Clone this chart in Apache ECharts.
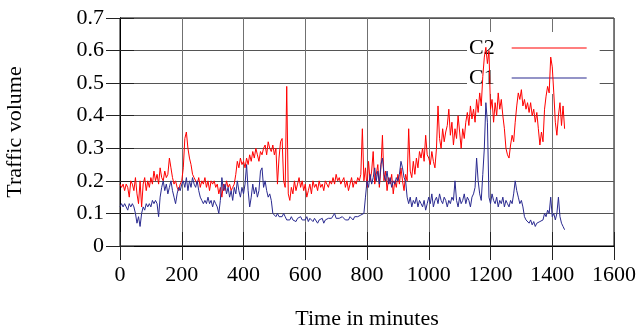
<!DOCTYPE html>
<html>
<head>
<meta charset="utf-8">
<script src="https://cdn.jsdelivr.net/npm/echarts@6/dist/echarts.min.js"></script>
<style>
html,body{margin:0;padding:0;background:#fff;}
#chart{width:642px;height:328px;}
</style>
</head>
<body>
<div id="chart"></div>
<script>
// Sampling step of the series, in minutes (first sample at minute 0)
const sampleStepMinutes = 5;

const seriesNames = ['C2', 'C1'];

// C2 (red) traffic volume, one value every 5 minutes from 0 to 1440
const c2Values = [
  0.19,0.18,0.19,0.17,0.19,0.18,0.15,0.2,0.19,0.17,0.21,0.16,0.13,0.2,0.12,0.19,0.21,0.17,0.2,0.18,
  0.21,0.19,0.23,0.2,0.22,0.19,0.24,0.21,0.2,0.23,0.21,0.22,0.27,0.24,0.21,0.19,0.2,0.18,0.17,0.19,
  0.2,0.24,0.33,0.35,0.3,0.27,0.25,0.22,0.21,0.2,0.19,0.21,0.18,0.2,0.19,0.21,0.18,0.2,0.17,0.2,
  0.19,0.2,0.18,0.19,0.16,0.18,0.15,0.19,0.17,0.2,0.18,0.19,0.17,0.18,0.19,0.22,0.26,0.24,0.27,0.25,
  0.26,0.24,0.27,0.25,0.28,0.26,0.29,0.27,0.3,0.28,0.26,0.29,0.28,0.3,0.31,0.28,0.32,0.3,0.29,0.31,
  0.28,0.3,0.19,0.27,0.32,0.33,0.2,0.18,0.49,0.16,0.14,0.18,0.16,0.2,0.17,0.19,0.21,0.18,0.2,0.17,
  0.19,0.15,0.17,0.19,0.16,0.2,0.18,0.19,0.17,0.2,0.18,0.19,0.17,0.2,0.19,0.18,0.2,0.19,0.21,0.19,
  0.22,0.2,0.21,0.19,0.2,0.21,0.18,0.2,0.17,0.19,0.21,0.18,0.2,0.19,0.21,0.2,0.22,0.36,0.2,0.24,
  0.18,0.26,0.2,0.23,0.29,0.19,0.22,0.25,0.18,0.24,0.34,0.2,0.23,0.17,0.21,0.19,0.22,0.16,0.2,0.18,
  0.22,0.19,0.24,0.2,0.17,0.22,0.2,0.36,0.23,0.21,0.26,0.22,0.27,0.24,0.29,0.27,0.3,0.26,0.34,0.28,
  0.27,0.25,0.29,0.26,0.24,0.3,0.43,0.33,0.3,0.36,0.32,0.35,0.37,0.42,0.34,0.38,0.31,0.36,0.33,0.4,
  0.35,0.3,0.36,0.33,0.38,0.41,0.37,0.43,0.39,0.42,0.38,0.45,0.41,0.47,0.43,0.52,0.58,0.61,0.56,0.6,
  0.42,0.45,0.38,0.44,0.4,0.47,0.42,0.45,0.4,0.36,0.3,0.28,0.27,0.31,0.34,0.32,0.38,0.43,0.47,0.45,
  0.48,0.43,0.45,0.42,0.44,0.41,0.44,0.4,0.42,0.38,0.41,0.36,0.31,0.35,0.32,0.42,0.46,0.49,0.47,0.58,
  0.55,0.47,0.38,0.34,0.4,0.44,0.37,0.43,0.36
];

// C1 (blue) traffic volume, one value every 5 minutes from 0 to 1440
const c1Values = [
  0.12,0.13,0.12,0.13,0.12,0.11,0.13,0.12,0.13,0.12,0.1,0.07,0.09,0.06,0.1,0.12,0.11,0.13,0.12,0.13,
  0.12,0.14,0.13,0.14,0.13,0.09,0.15,0.18,0.2,0.17,0.19,0.16,0.18,0.2,0.17,0.15,0.13,0.16,0.18,0.17,
  0.19,0.2,0.18,0.21,0.17,0.2,0.18,0.21,0.19,0.18,0.2,0.17,0.15,0.14,0.13,0.14,0.13,0.15,0.13,0.14,
  0.12,0.14,0.13,0.12,0.1,0.14,0.21,0.17,0.19,0.16,0.18,0.15,0.17,0.14,0.18,0.16,0.2,0.17,0.15,0.18,
  0.16,0.19,0.25,0.17,0.12,0.15,0.19,0.16,0.18,0.15,0.17,0.23,0.24,0.18,0.2,0.17,0.15,0.16,0.14,0.1,
  0.1,0.09,0.1,0.09,0.095,0.09,0.1,0.09,0.08,0.085,0.08,0.09,0.08,0.085,0.075,0.085,0.08,0.09,0.08,0.085,
  0.08,0.09,0.075,0.085,0.08,0.075,0.085,0.08,0.07,0.08,0.075,0.085,0.07,0.08,0.075,0.085,0.08,0.085,0.09,0.1,
  0.085,0.08,0.085,0.08,0.09,0.085,0.08,0.085,0.08,0.09,0.085,0.08,0.09,0.085,0.09,0.09,0.095,0.09,0.1,0.15,
  0.2,0.18,0.22,0.19,0.21,0.24,0.2,0.23,0.19,0.25,0.27,0.22,0.2,0.23,0.19,0.21,0.18,0.2,0.19,0.21,
  0.2,0.22,0.26,0.24,0.21,0.2,0.15,0.13,0.15,0.12,0.14,0.13,0.15,0.12,0.14,0.13,0.12,0.14,0.11,0.13,
  0.15,0.13,0.16,0.12,0.14,0.15,0.13,0.16,0.14,0.13,0.15,0.14,0.12,0.14,0.13,0.15,0.14,0.2,0.14,0.12,
  0.15,0.13,0.14,0.16,0.13,0.15,0.14,0.12,0.15,0.16,0.18,0.27,0.2,0.16,0.14,0.22,0.3,0.44,0.38,0.15,
  0.13,0.16,0.14,0.13,0.15,0.12,0.14,0.13,0.15,0.12,0.14,0.13,0.12,0.14,0.13,0.16,0.2,0.17,0.15,0.13,
  0.14,0.12,0.09,0.08,0.085,0.07,0.08,0.065,0.075,0.06,0.07,0.065,0.075,0.07,0.08,0.1,0.09,0.11,0.1,0.15,
  0.09,0.1,0.08,0.1,0.15,0.09,0.07,0.06,0.05
];

// Axis ticks
const xTicks = [0, 200, 400, 600, 800, 1000, 1200, 1400, 1600];
const yTicks = [0, 0.1, 0.2, 0.3, 0.4, 0.5, 0.6, 0.7];

const xTitle = 'Time in minutes';
const yTitle = 'Traffic volume';

const FONT = '"Liberation Serif", "DejaVu Serif", serif';

function toPairs(values) {
  return values.map((v, i) => [i * sampleStepMinutes, v]);
}

const chart = echarts.init(document.getElementById('chart'), null, {renderer: 'canvas'});

const xInterval = xTicks[1] - xTicks[0];
const yInterval = yTicks[1] - yTicks[0];

const tickStyle = {show: true, inside: true, length: 14, lineStyle: {color: '#222', width: 1}};
const axisLineStyle = {show: true, lineStyle: {color: '#000', width: 1}};

chart.setOption({
  animation: false,
  backgroundColor: '#fff',
  grid: {left: 120, right: 28, top: 18, bottom: 82, containLabel: false, outerBoundsMode: 'none', show: true, borderColor: '#000', borderWidth: 1, backgroundColor: 'transparent'},
  legend: {
    orient: 'vertical',
    left: 467,
    top: 32,
    align: 'right',
    itemWidth: 75,
    itemHeight: 1.2,
    itemGap: 8,
    padding: [5, 13, 5, 2],
    backgroundColor: '#fff',
    z: 1,
    textStyle: {fontFamily: FONT, fontSize: 22, color: '#000', padding: [0, 12, 0, 0]},
    data: [{name: seriesNames[0], icon: 'rect'}, {name: seriesNames[1], icon: 'rect'}]
  },
  xAxis: [{
    type: 'value',
    min: xTicks[0], max: xTicks[xTicks.length - 1], interval: xInterval,
    position: 'bottom',
    name: xTitle, nameLocation: 'middle', nameGap: 62,
    nameTextStyle: {fontFamily: FONT, fontSize: 22, color: '#000'},
    axisLine: axisLineStyle,
    axisTick: tickStyle,
    axisLabel: {fontFamily: FONT, fontSize: 22, color: '#000', margin: 18, showMaxLabel: true, showMinLabel: true, formatter: v => String(v)},
    splitLine: {show: true, lineStyle: {color: '#707070', width: 1}}
  }, {
    type: 'value',
    min: xTicks[0], max: xTicks[xTicks.length - 1], interval: xInterval,
    position: 'top',
    axisLine: axisLineStyle,
    axisTick: tickStyle,
    axisLabel: {show: false},
    splitLine: {show: false}
  }],
  yAxis: [{
    type: 'value',
    min: yTicks[0], max: yTicks[yTicks.length - 1], interval: yInterval,
    position: 'left',
    name: yTitle, nameLocation: 'middle', nameGap: 94, nameRotate: 90,
    nameTextStyle: {fontFamily: FONT, fontSize: 22, color: '#000'},
    axisLine: axisLineStyle,
    axisTick: tickStyle,
    axisLabel: {fontFamily: FONT, fontSize: 22, color: '#000', margin: 16, formatter: v => String(+v.toFixed(1))},
    splitLine: {show: true, lineStyle: {color: '#555', width: 1}}
  }, {
    type: 'value',
    min: yTicks[0], max: yTicks[yTicks.length - 1], interval: yInterval,
    position: 'right',
    axisLine: axisLineStyle,
    axisTick: tickStyle,
    axisLabel: {show: false},
    splitLine: {show: false}
  }],
  series: [{
    name: seriesNames[0],
    type: 'line',
    xAxisIndex: 0, yAxisIndex: 0,
    data: toPairs(c2Values),
    showSymbol: false, symbol: 'none',
    z: 2,
    color: '#ff0000',
    lineStyle: {color: '#ff0000', width: 1}
  }, {
    name: seriesNames[1],
    type: 'line',
    xAxisIndex: 0, yAxisIndex: 0,
    data: toPairs(c1Values),
    showSymbol: false, symbol: 'none',
    z: 3,
    color: '#2a2a90',
    lineStyle: {color: '#2a2a90', width: 1}
  }]
});
</script>
</body>
</html>
